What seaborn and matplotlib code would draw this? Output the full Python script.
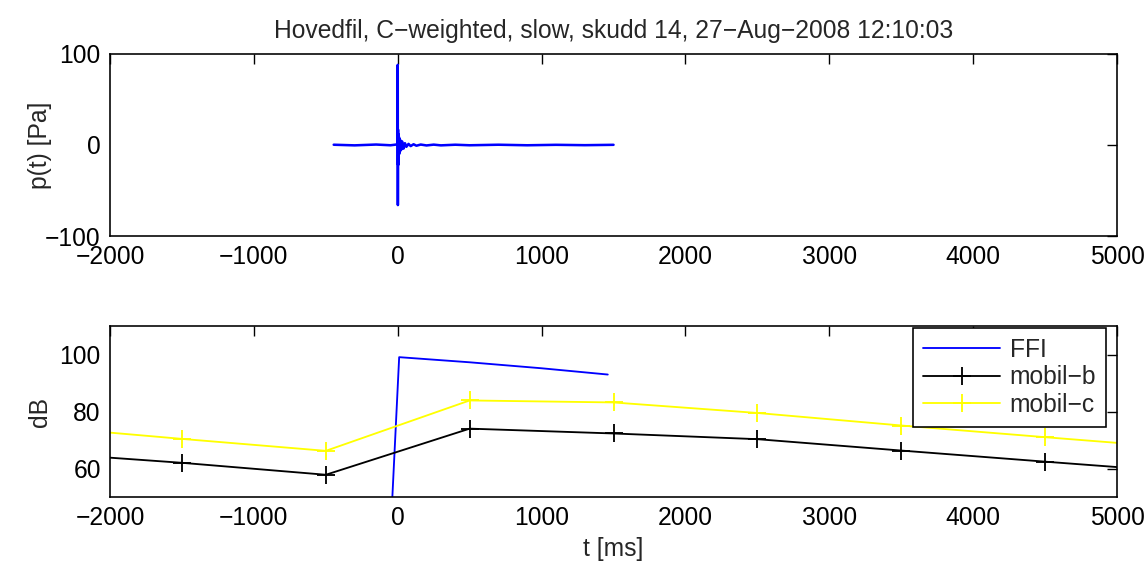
import numpy as np
import pandas as pd
import matplotlib
matplotlib.use("Agg")
import matplotlib.pyplot as plt
import seaborn as sns

# pressure trace (hand read, spike at t=0)
t_ms = [-445, -300, -150, -50, -5, -1, 0, 1, 2, 3, 4, 6, 8, 10, 13, 16, 20, 25, 30,
        40, 50, 60, 75, 90, 110, 130, 160, 200, 250, 300, 400, 500, 700, 900,
        1100, 1300, 1500]
p_pa = [0.3, -0.4, 0.5, -0.3, 0.6, 2, 88, -66, 17, -22, 12, -14, 9, -10, 7, -7, 5,
        -5, 4, -4, 2, -2, 1.2, -1.2, 0.8, -0.8, 0.5, -0.5, 0.4, -0.4, 0.3, -0.3,
        0.3, -0.3, 0.2, -0.2, 0.2]

# level curves
ffi_t = [-47, 10, 500, 1000, 1460]
ffi_db = [40, 99.1, 97.3, 95.2, 93.0]

mob_t = [-2500, -1500, -500, 500, 1500, 2500, 3500, 4500, 5500]
mobil_b = [65.6, 62.0, 57.8, 74.0, 72.3, 70.3, 66.3, 62.4, 58.6]
mobil_c = [74.8, 70.4, 66.2, 83.9, 83.2, 79.5, 75.1, 71.0, 67.0]

title = "Hovedfil, C\u2212weighted, slow, skudd 14, 27\u2212Aug\u22122008 12:10:03"

sns.set_theme(style="white")
plt.rcParams['font.family'] = ['Liberation Sans', 'DejaVu Sans']
plt.rcParams['axes.unicode_minus'] = True
fs = 10.7

dpi = 166
fig = plt.figure(figsize=(1147 / dpi, 562 / dpi), dpi=dpi)
fig.patch.set_facecolor("white")

ax1 = fig.add_axes([0.0959, 0.580, 0.878, 0.324])
ax2 = fig.add_axes([0.0959, 0.1157, 0.878, 0.304])

df_p = pd.DataFrame({"t": t_ms, "p": p_pa})
sns.lineplot(data=df_p, x="t", y="p", ax=ax1, color=(0, 0, 1), lw=1.1,
             sort=False, estimator=None)

sns.lineplot(x=ffi_t, y=ffi_db, ax=ax2, color=(0, 0, 1), lw=0.8,
             sort=False, estimator=None, label="FFI")
sns.lineplot(x=mob_t, y=mobil_b, ax=ax2, color="black", lw=0.8, marker="+",
             markersize=8, markeredgewidth=0.8, markeredgecolor="black",
             sort=False, estimator=None, label="mobil\u2212b")
sns.lineplot(x=mob_t, y=mobil_c, ax=ax2, color=(1, 1, 0), lw=0.8, marker="+",
             markersize=8, markeredgewidth=0.8, markeredgecolor=(1, 1, 0),
             sort=False, estimator=None, label="mobil\u2212c")

for ax in (ax1, ax2):
    ax.set_xlim(-2000, 5000)
    ax.set_xticks(range(-2000, 5001, 1000))
    ax.tick_params(direction="in", top=True, right=True, length=4.3, width=0.6,
                   labelsize=fs, colors="black", pad=4)
    for s in ax.spines.values():
        s.set_color("black")
        s.set_linewidth(0.7)
    ax.set_facecolor("white")

ax1.set_ylim(-100, 100)
ax1.set_yticks([-100, 0, 100])
ax1.set_xlabel("")
ax1.set_ylabel("p(t) [Pa]", fontsize=fs)
ax1.yaxis.set_label_coords(-0.058, 0.5)
ax1.set_title(title, fontsize=fs, pad=7)

ax2.set_ylim(50, 110)
ax2.set_yticks([60, 80, 100])
ax2.set_xlabel("t [ms]", fontsize=fs, labelpad=3)
ax2.set_ylabel("dB", fontsize=fs)
ax2.yaxis.set_label_coords(-0.058, 0.5)

leg = ax2.legend(loc="upper right", bbox_to_anchor=(0.989, 0.99), borderaxespad=0,
                 fancybox=False, framealpha=1, edgecolor="black", fontsize=fs,
                 handlelength=3.1, handletextpad=0.4, labelspacing=0.15,
                 borderpad=0.4)
leg.get_frame().set_linewidth(0.7)

fig.savefig("out.png", dpi=dpi, facecolor="white")
